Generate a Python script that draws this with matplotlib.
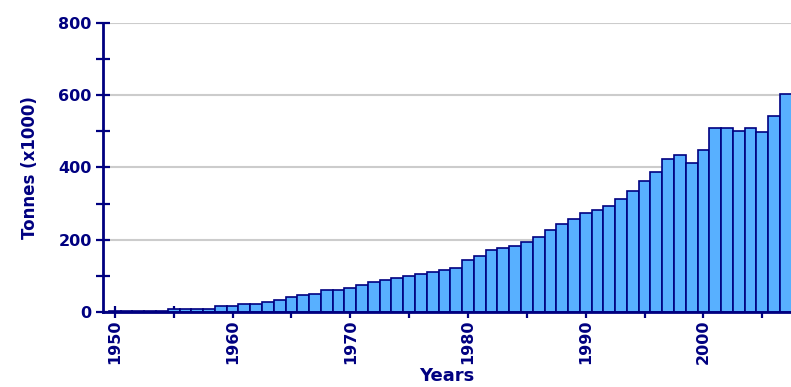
import matplotlib
matplotlib.use("Agg")
import matplotlib.pyplot as plt
from matplotlib.ticker import MultipleLocator

# Annual production, thousand tonnes
years = list(range(1950, 2008))
tonnes = [
    2, 2, 2, 2, 2,                    # 1950-1954
    9, 9, 9, 9, 17,                   # 1955-1959
    17, 22, 22, 28, 34,               # 1960-1964
    40, 46, 51, 60, 60,               # 1965-1969
    66, 74, 82, 88, 94,               # 1970-1974
    100, 106, 111, 115, 122,          # 1975-1979
    145, 156, 172, 177, 182,          # 1980-1984
    194, 207, 228, 244, 256,          # 1985-1989
    274, 283, 294, 313, 334,          # 1990-1994
    363, 387, 423, 435, 412,          # 1995-1999
    447, 509, 509, 502, 509,          # 2000-2004
    498, 542, 604,                    # 2005-2007
]
major_years = [1950, 1960, 1970, 1980, 1990, 2000]
y_ticks = [0, 200, 400, 600, 800]

navy = "#000080"
bar_fill = "#58B0FF"

fig = plt.figure(figsize=(7.91, 3.87), dpi=100)
ax = fig.add_axes([0.130, 0.194, 0.870, 0.7466])

ax.bar(years, tonnes, width=1.0, color=bar_fill, edgecolor=navy,
       linewidth=1.2, zorder=3)

ax.set_xlim(1948.98, 2007.44)
ax.set_ylim(0, 800)

ax.set_yticks(y_ticks)
ax.yaxis.set_minor_locator(MultipleLocator(100))
ax.set_xticks(major_years)
ax.set_xticklabels([str(y) for y in major_years], rotation=90)
ax.xaxis.set_minor_locator(MultipleLocator(5))

ax.grid(axis="y", which="major", color="#cccccc", linewidth=1.5, zorder=0)
ax.set_axisbelow(True)

for side in ("top", "right"):
    ax.spines[side].set_visible(False)
for side in ("left", "bottom"):
    ax.spines[side].set_color(navy)
    ax.spines[side].set_linewidth(2.0)
    ax.spines[side].set_zorder(4)

ax.tick_params(axis="y", which="both", direction="inout", length=10,
               width=1.6, color=navy, labelcolor=navy, pad=3)
ax.tick_params(axis="x", which="both", direction="inout", length=9,
               width=1.6, color=navy, labelcolor=navy, pad=1)
for lab in ax.get_yticklabels() + ax.get_xticklabels():
    lab.set_fontsize(11.5)
    lab.set_fontweight("bold")
    lab.set_family("DejaVu Sans")

ax.set_ylabel("Tonnes (x1000)", color=navy, fontsize=12, fontweight="bold",
              labelpad=14)
ax.set_xlabel("Years", color=navy, fontsize=13, fontweight="bold")
ax.xaxis.set_label_coords(0.5, -0.19)
ax.xaxis.label.set_verticalalignment("top")

fig.savefig("out.png", dpi=100)
